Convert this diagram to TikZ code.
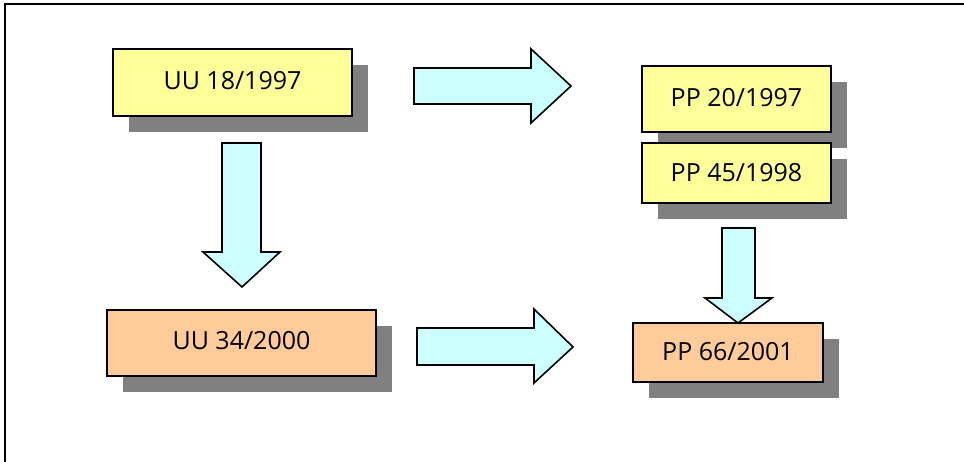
\documentclass[tikz,border=0pt]{standalone}
\usepackage{fontspec}
\setmainfont{Open Sans}
\usetikzlibrary{shadows}
\definecolor{boxyellow}{HTML}{FFFF99}
\definecolor{boxorange}{HTML}{FFCC99}
\definecolor{arrowcyan}{HTML}{CCFFFF}
\definecolor{shgray}{HTML}{808080}
\tikzset{
  lawbox/.style={draw=black, line width=2pt, inner sep=0pt,
    font=\fontsize{25}{30}\selectfont,
    drop shadow={shadow xshift=16pt, shadow yshift=-16pt, fill=shgray, opacity=1}},
  ybox/.style={lawbox, fill=boxyellow},
  obox/.style={lawbox, fill=boxorange},
  blockarrow/.style={draw=black, line width=1.6pt, fill=arrowcyan, line join=miter}
}
\begin{document}
\begin{tikzpicture}[x=1pt,y=-1pt]
\useasboundingbox (0,0) rectangle (964,462);
\fill[white] (0,0) rectangle (964,462);
% frame
\draw[line width=2.2pt] (5,462) -- (5,4) -- (964,4);
% boxes
\node[ybox, minimum width=239pt, minimum height=67pt] (uu18) at (232.5,82.5) {\raisebox{4pt}{UU 18/1997}};
\node[ybox, minimum width=189pt, minimum height=66pt] (pp20) at (736.5,99) {\raisebox{4pt}{PP 20/1997}};
\node[ybox, minimum width=189pt, minimum height=60pt] (pp45) at (736.5,173) {\raisebox{2pt}{PP 45/1998}};
\node[obox, minimum width=269pt, minimum height=66pt] (uu34) at (241.5,343) {\raisebox{5pt}{UU 34/2000}};
\node[obox, minimum width=190pt, minimum height=59pt] (pp66) at (728,352.5) {\raisebox{1.5pt}{PP 66/2001}};
% block arrows
\draw[blockarrow] (414,68) -- (531,68) -- (531,49) -- (571,86) -- (531,123) -- (531,104) -- (414,104) -- cycle;
\draw[blockarrow] (222,143) -- (261,143) -- (261,252) -- (280,252) -- (242,287) -- (203,252) -- (222,252) -- cycle;
\draw[blockarrow] (417,328) -- (534,328) -- (534,309) -- (573,347) -- (534,383) -- (534,365) -- (417,365) -- cycle;
\draw[blockarrow] (722,228) -- (755,228) -- (755,298) -- (772,298) -- (738,323) -- (705,298) -- (722,298) -- cycle;
\end{tikzpicture}
\end{document}
